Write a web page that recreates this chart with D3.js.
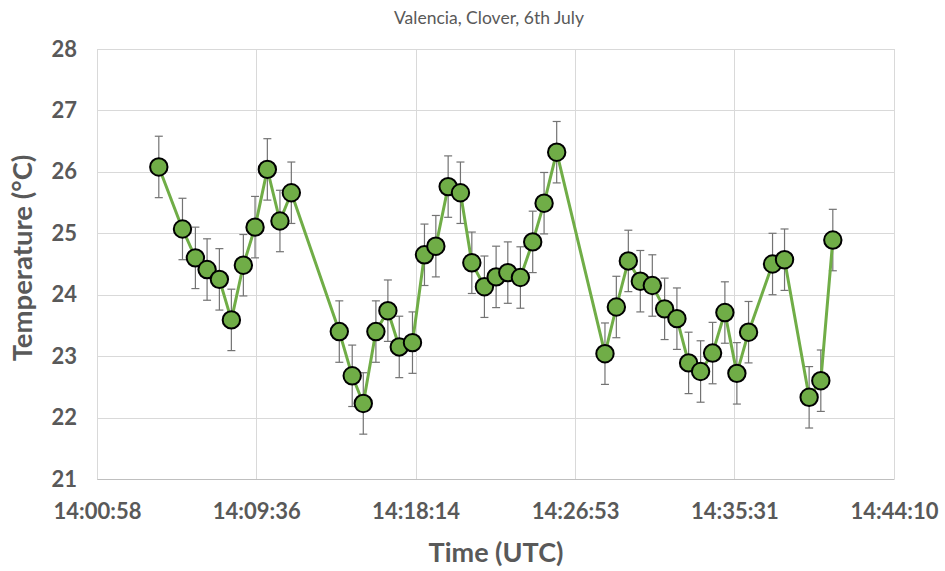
<!DOCTYPE html>
<html>
<head>
<meta charset="utf-8">
<script src="https://cdn.jsdelivr.net/npm/d3@7"></script>
<style>
  body { margin: 0; background: #fff; }
  svg { display: block; }
  text { font-family: Lato, "Open Sans", sans-serif; }
</style>
</head>
<body>
<svg id="chart" width="945" height="571"></svg>
<script>
var TITLE = 'Valencia, Clover, 6th July';

var TIMES = [
  '14:04:19', '14:05:36', '14:06:18', '14:06:56', '14:07:36', '14:08:15',
  '14:08:54', '14:09:32', '14:10:12', '14:10:53', '14:11:30', '14:14:06',
  '14:14:48', '14:15:24', '14:16:05', '14:16:44', '14:17:21', '14:18:04',
  '14:18:43', '14:19:20', '14:20:00', '14:20:40', '14:21:17', '14:21:58',
  '14:22:36', '14:23:14', '14:23:55', '14:24:35', '14:25:12', '14:25:53',
  '14:28:30', '14:29:07', '14:29:46', '14:30:25', '14:31:04', '14:31:44',
  '14:32:24', '14:33:02', '14:33:41', '14:34:20', '14:35:00', '14:35:39',
  '14:36:17', '14:37:35', '14:38:14', '14:39:34', '14:40:12', '14:40:51'
];

var TEMPS = [
  26.08, 25.07, 24.60, 24.41, 24.25, 23.59,
  24.48, 25.10, 26.04, 25.20, 25.66, 23.40,
  22.68, 22.23, 23.40, 23.74, 23.15, 23.22,
  24.65, 24.79, 25.76, 25.66, 24.52, 24.13,
  24.29, 24.36, 24.28, 24.86, 25.49, 26.32,
  23.04, 23.80, 24.55, 24.22, 24.15, 23.77,
  23.61, 22.89, 22.75, 23.05, 23.71, 22.72,
  23.39, 24.50, 24.57, 22.33, 22.60, 24.89
];

var ERROR = 0.5;

var X_TICKS = ['14:00:58', '14:09:36', '14:18:14', '14:26:53', '14:35:31', '14:44:10'];
var Y_TICKS = [21, 22, 23, 24, 25, 26, 27, 28];

var parseTime = d3.timeParse('%H:%M:%S');

var margin = { top: 49, right: 51, bottom: 92, left: 97 };
var width = 945 - margin.left - margin.right;
var height = 571 - margin.top - margin.bottom;

var data = TIMES.map(function(t, i) {
  return { time: parseTime(t), temp: TEMPS[i] };
});

var svg = d3.select('#chart');
var g = svg.append('g').attr('transform', 'translate(' + margin.left + ',' + margin.top + ')');

var x = d3.scaleTime()
  .domain([parseTime(X_TICKS[0]), parseTime(X_TICKS[X_TICKS.length - 1])])
  .range([0, width]);

var y = d3.scaleLinear()
  .domain([Y_TICKS[0], Y_TICKS[Y_TICKS.length - 1]])
  .range([height, 0]);

// grid
g.append('g').selectAll('line.h').data(Y_TICKS).enter().append('line')
  .attr('x1', 0).attr('x2', width)
  .attr('y1', function(d) { return Math.round(y(d)) + 0.5; })
  .attr('y2', function(d) { return Math.round(y(d)) + 0.5; })
  .attr('stroke', '#d9d9d9');

g.append('g').selectAll('line.v').data(X_TICKS).enter().append('line')
  .attr('y1', 0).attr('y2', height)
  .attr('x1', function(d) { return Math.round(x(parseTime(d))) + 0.5; })
  .attr('x2', function(d) { return Math.round(x(parseTime(d))) + 0.5; })
  .attr('stroke', '#d9d9d9');

// axes (labels only)
var xAxis = g.append('g')
  .attr('transform', 'translate(0,' + height + ')')
  .call(d3.axisBottom(x)
    .tickValues(X_TICKS.map(parseTime))
    .tickFormat(function(d, i) { return X_TICKS[i]; })
    .tickSize(0).tickPadding(24));
xAxis.select('.domain').attr('stroke', '#bfbfbf');
xAxis.selectAll('text')
  .attr('font-size', 22).attr('font-weight', 'bold').attr('fill', '#595959')
  .style('font-family', 'Lato, sans-serif');

var yAxis = g.append('g')
  .call(d3.axisLeft(y).tickValues(Y_TICKS).tickFormat(d3.format('d'))
    .tickSize(0).tickPadding(20));
yAxis.select('.domain').remove();
yAxis.selectAll('text')
  .attr('font-size', 22).attr('font-weight', 'bold').attr('fill', '#595959')
  .style('font-family', 'Lato, sans-serif');

// error bars
var eb = g.append('g').selectAll('g.err').data(data).enter().append('g')
  .attr('stroke', '#737373').attr('stroke-width', 1.2);
eb.append('line')
  .attr('x1', function(d) { return x(d.time); })
  .attr('x2', function(d) { return x(d.time); })
  .attr('y1', function(d) { return y(d.temp + ERROR); })
  .attr('y2', function(d) { return y(d.temp - ERROR); });
eb.append('line')
  .attr('x1', function(d) { return x(d.time) - 4; })
  .attr('x2', function(d) { return x(d.time) + 4; })
  .attr('y1', function(d) { return y(d.temp + ERROR); })
  .attr('y2', function(d) { return y(d.temp + ERROR); });
eb.append('line')
  .attr('x1', function(d) { return x(d.time) - 4; })
  .attr('x2', function(d) { return x(d.time) + 4; })
  .attr('y1', function(d) { return y(d.temp - ERROR); })
  .attr('y2', function(d) { return y(d.temp - ERROR); });

// line
var line = d3.line()
  .x(function(d) { return x(d.time); })
  .y(function(d) { return y(d.temp); });

g.append('path').datum(data)
  .attr('d', line)
  .attr('fill', 'none')
  .attr('stroke', '#70ad47')
  .attr('stroke-width', 3)
  .attr('stroke-linejoin', 'round');

// markers
g.append('g').selectAll('circle').data(data).enter().append('circle')
  .attr('cx', function(d) { return x(d.time); })
  .attr('cy', function(d) { return y(d.temp); })
  .attr('r', 8.7)
  .attr('fill', '#70ad47')
  .attr('stroke', '#000')
  .attr('stroke-width', 2);

// titles
svg.append('text')
  .attr('x', 489).attr('y', 24)
  .attr('text-anchor', 'middle')
  .attr('font-size', 17.5).attr('fill', '#595959')
  .text(TITLE);

svg.append('text')
  .attr('x', 496).attr('y', 562)
  .attr('text-anchor', 'middle')
  .attr('font-size', 27).attr('font-weight', 'bold').attr('fill', '#595959')
  .text('Time (UTC)');

svg.append('text')
  .attr('transform', 'translate(32,' + (margin.top + height / 2 - 6) + ') rotate(-90)')
  .attr('text-anchor', 'middle')
  .attr('font-size', 27.5).attr('font-weight', 'bold').attr('fill', '#595959')
  .text('Temperature (°C)');
</script>
</body>
</html>
